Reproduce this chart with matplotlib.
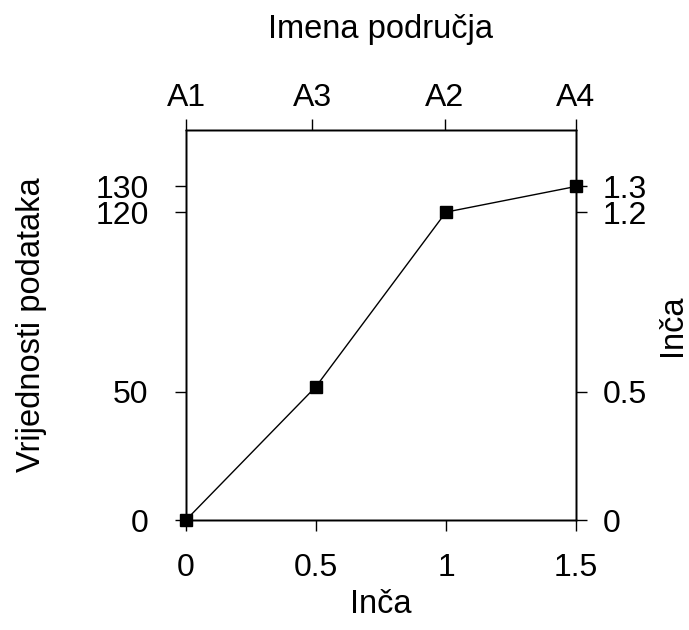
import matplotlib
matplotlib.use("Agg")
import matplotlib.pyplot as plt

plt.rcParams['font.family'] = ['Liberation Sans', 'DejaVu Sans']

x_vals = [0, 0.5, 1.0, 1.5]
y_vals = [0, 52, 120, 130]
left_ticks = [0, 50, 120, 130]
right_labels = ["0", "0.5", "1.2", "1.3"]
bottom_ticks = [0, 0.5, 1, 1.5]
bottom_labels = ["0", "0.5", "1", "1.5"]
top_ticks = [0, 0.485, 0.995, 1.5]
top_labels = ["A1", "A3", "A2", "A4"]

fs = 23
lfs = 23.5
tl = 8

fig = plt.figure(figsize=(6.89, 6.30), dpi=100)
ax = fig.add_axes([186/689, 1-520/630, 390/689, 390/630])
ax.plot(x_vals, y_vals, color='black', lw=1, marker='s', markersize=8, clip_on=False, zorder=5)
ax.set_xlim(0, 1.5)
ax.set_ylim(0, 152)
ax.set_xticks(bottom_ticks)
ax.set_xticklabels(bottom_labels, fontsize=fs)
ax.set_yticks(left_ticks)
ax.set_yticklabels([str(v) for v in left_ticks], fontsize=fs)
ax.tick_params(axis='x', direction='out', length=tl, width=1, pad=16)
ax.tick_params(axis='y', direction='out', length=tl, width=1, pad=19)
ax.set_xlabel("Inča", fontsize=lfs, va='baseline')
ax.xaxis.set_label_coords(0.5, (520-613)/390)
ax.set_ylabel("Vrijednosti podataka", fontsize=lfs, va='center')
ax.yaxis.set_label_coords((31.5-186)/390, 0.5)

axr = ax.twinx()
axr.set_ylim(ax.get_ylim())
axr.set_yticks(left_ticks)
axr.set_yticklabels(right_labels, fontsize=fs)
axr.tick_params(direction='out', length=tl, width=1, pad=11)
axr.set_ylabel("Inča", fontsize=lfs, va='center', rotation=90)
axr.yaxis.set_label_coords((672-186)/390, 0.5)

axt = ax.twiny()
axt.set_xlim(ax.get_xlim())
axt.set_xticks(top_ticks)
axt.set_xticklabels(top_labels, fontsize=fs)
axt.tick_params(direction='out', length=tl, width=1, pad=4)
axt.set_xlabel("Imena područja", fontsize=lfs, va='baseline')
axt.xaxis.set_label_coords(0.5, (520-38)/390)

for a in (ax, axr, axt):
    for s in a.spines.values():
        s.set_linewidth(1)
        s.set_color('black')

fig.savefig("out.png", dpi=100)
